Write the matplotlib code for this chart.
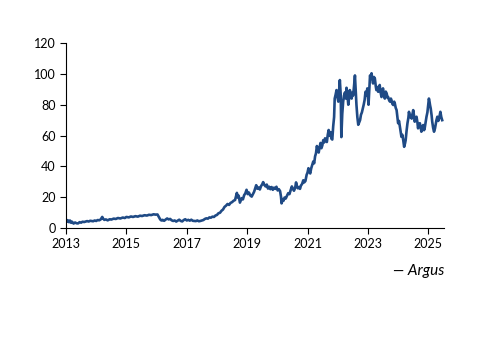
import matplotlib
matplotlib.use("Agg")
import numpy as np
import matplotlib.pyplot as plt

# Argus price series (decimal year, value), one pair of lists per year
d2013 = [2013.0, 2013.03, 2013.06, 2013.1, 2013.13, 2013.17, 2013.2, 2013.25, 2013.3, 2013.35,
         2013.4, 2013.45, 2013.5, 2013.55, 2013.6, 2013.7, 2013.75, 2013.8, 2013.9, 2013.95]
v2013 = [5.6, 4.2, 5.0, 3.8, 4.9, 3.4, 4.1, 2.9, 3.6, 3.1,
         3.0, 3.8, 3.5, 4.1, 3.9, 4.5, 4.2, 4.7, 4.4, 4.9]

d2014 = [2014.0, 2014.05, 2014.1, 2014.15, 2014.2, 2014.23, 2014.27, 2014.32, 2014.38, 2014.45,
         2014.5, 2014.58, 2014.65, 2014.72, 2014.8, 2014.88, 2014.95]
v2014 = [4.6, 5.2, 5.0, 5.6, 7.2, 6.1, 5.3, 5.6, 5.0, 5.7,
         5.5, 6.1, 5.9, 6.5, 6.2, 6.8, 6.5]

d2015 = [2015.0, 2015.08, 2015.15, 2015.22, 2015.3, 2015.38, 2015.45, 2015.52, 2015.6, 2015.68,
         2015.75, 2015.82, 2015.9, 2015.97]
v2015 = [7.2, 6.9, 7.5, 7.2, 7.7, 7.4, 8.0, 7.8, 8.3, 8.1,
         8.6, 8.4, 8.9, 8.7]

d2016 = [2016.03, 2016.08, 2016.12, 2016.16, 2016.2, 2016.25, 2016.3, 2016.35, 2016.4, 2016.45,
         2016.5, 2016.55, 2016.6, 2016.65, 2016.7, 2016.75, 2016.8, 2016.85, 2016.9, 2016.95]
v2016 = [8.8, 7.0, 5.6, 4.9, 5.3, 4.7, 5.5, 6.2, 5.6, 5.9,
         5.0, 4.6, 4.9, 4.2, 4.8, 5.4, 4.6, 4.3, 5.2, 5.7]

d2017 = [2017.0, 2017.05, 2017.1, 2017.15, 2017.2, 2017.3, 2017.35, 2017.4, 2017.45, 2017.5,
         2017.55, 2017.6, 2017.65, 2017.7, 2017.75, 2017.8, 2017.85, 2017.9, 2017.95]
v2017 = [4.9, 5.3, 4.8, 5.4, 4.7, 4.5, 4.9, 4.4, 4.6, 4.9,
         5.2, 5.9, 6.3, 6.1, 6.9, 6.7, 7.4, 7.2, 8.1]

d2018 = [2018.0, 2018.05, 2018.1, 2018.15, 2018.2, 2018.25, 2018.3, 2018.35, 2018.4, 2018.45,
         2018.5, 2018.55, 2018.6, 2018.63, 2018.66, 2018.69, 2018.72, 2018.76, 2018.79, 2018.82,
         2018.86, 2018.9, 2018.94, 2018.98]
v2018 = [8.5, 9.6, 9.9, 11.2, 12.0, 13.7, 14.5, 15.6, 15.0, 16.3,
         16.8, 17.7, 18.2, 20.5, 22.8, 19.8, 21.0, 16.5, 18.0, 19.4,
         18.6, 21.3, 22.5, 24.8]

d2019 = [2019.02, 2019.06, 2019.1, 2019.15, 2019.19, 2019.23, 2019.27, 2019.3, 2019.34, 2019.38,
         2019.42, 2019.46, 2019.5, 2019.53, 2019.57, 2019.61, 2019.65, 2019.69, 2019.73, 2019.77,
         2019.81, 2019.85, 2019.89, 2019.93, 2019.97]
v2019 = [22.0, 23.0, 21.2, 20.4, 22.0, 23.5, 26.0, 27.8, 25.5, 26.3,
         25.0, 27.2, 28.4, 29.8, 28.0, 27.0, 28.2, 25.6, 26.8, 25.2,
         26.6, 24.8, 26.2, 25.4, 26.8]

d2020 = [2020.01, 2020.05, 2020.09, 2020.12, 2020.14, 2020.17, 2020.2, 2020.24, 2020.28, 2020.32,
         2020.36, 2020.4, 2020.44, 2020.48, 2020.52, 2020.55, 2020.59, 2020.62, 2020.65, 2020.68,
         2020.72, 2020.75, 2020.78, 2020.82, 2020.86, 2020.89, 2020.93, 2020.97]
v2020 = [24.4, 25.2, 24.0, 20.5, 16.0, 18.8, 17.6, 19.8, 19.2, 21.0,
         22.6, 22.0, 24.5, 27.0, 25.3, 24.2, 26.0, 29.6, 27.2, 25.8,
         26.6, 25.4, 27.5, 28.6, 31.0, 29.6, 30.5, 34.5]

d2021 = [2021.0, 2021.03, 2021.06, 2021.09, 2021.12, 2021.15, 2021.19, 2021.22, 2021.25, 2021.28,
         2021.31, 2021.34, 2021.37, 2021.4, 2021.43, 2021.46, 2021.49, 2021.52, 2021.55, 2021.58,
         2021.61, 2021.64, 2021.67, 2021.7, 2021.73, 2021.76, 2021.79, 2021.82, 2021.85, 2021.88,
         2021.9, 2021.93, 2021.96, 2021.99]
v2021 = [36.0, 38.8, 36.5, 35.4, 38.6, 40.5, 43.2, 42.0, 46.5, 48.5,
         53.2, 50.5, 49.0, 52.5, 55.2, 51.8, 53.6, 57.0, 55.5, 58.2,
         56.8, 55.8, 60.5, 63.6, 60.0, 62.2, 58.0, 57.4, 66.0, 72.0,
         84.0, 86.5, 89.5, 85.0]

d2022 = [2022.02, 2022.05, 2022.07, 2022.1, 2022.12, 2022.15, 2022.18, 2022.21, 2022.24, 2022.27,
         2022.29, 2022.32, 2022.35, 2022.38, 2022.4, 2022.43, 2022.46, 2022.49, 2022.51, 2022.54,
         2022.57, 2022.6, 2022.62, 2022.65, 2022.68, 2022.71, 2022.74, 2022.77, 2022.8, 2022.83,
         2022.86, 2022.89, 2022.92, 2022.95, 2022.98]
v2022 = [82.0, 90.0, 96.0, 86.0, 59.0, 74.0, 82.0, 86.0, 88.0, 84.0,
         91.0, 86.5, 80.0, 85.0, 89.5, 87.0, 84.0, 88.0, 86.0, 92.0,
         99.0, 88.0, 80.0, 72.0, 67.0, 68.5, 70.0, 73.5, 75.0, 77.5,
         80.0, 83.0, 88.4, 86.0, 90.6]

d2023 = [2023.02, 2023.05, 2023.07, 2023.1, 2023.12, 2023.15, 2023.17, 2023.2, 2023.23, 2023.26,
         2023.28, 2023.31, 2023.34, 2023.37, 2023.39, 2023.42, 2023.45, 2023.48, 2023.5, 2023.53,
         2023.56, 2023.59, 2023.62, 2023.65, 2023.67, 2023.7, 2023.73, 2023.76, 2023.78, 2023.81,
         2023.84, 2023.87, 2023.89, 2023.92, 2023.95, 2023.98]
v2023 = [80.0, 92.0, 99.0, 97.0, 100.4, 96.0, 93.8, 98.0, 97.0, 92.0,
         89.5, 91.5, 88.4, 90.0, 92.8, 88.0, 85.0, 89.0, 90.6, 86.0,
         84.0, 88.5, 87.4, 84.5, 85.0, 83.0, 82.0, 84.0, 83.0, 80.5,
         79.8, 82.0, 81.0, 78.0, 76.5, 71.0]

d2024 = [2024.0, 2024.03, 2024.06, 2024.09, 2024.11, 2024.14, 2024.17, 2024.2, 2024.23, 2024.25,
         2024.28, 2024.31, 2024.34, 2024.36, 2024.39, 2024.42, 2024.45, 2024.48, 2024.5, 2024.53,
         2024.55, 2024.58, 2024.61, 2024.64, 2024.66, 2024.69, 2024.72, 2024.75, 2024.77, 2024.8,
         2024.83, 2024.86, 2024.88, 2024.91, 2024.94, 2024.97, 2024.99]
v2024 = [68.0, 69.5, 65.7, 62.0, 59.2, 60.5, 57.0, 52.7, 55.0, 57.0,
         63.0, 68.0, 71.5, 75.4, 72.0, 73.3, 71.0, 74.5, 76.5, 72.5,
         69.0, 71.0, 72.2, 68.5, 64.7, 66.5, 68.0, 65.0, 62.5, 65.5,
         66.8, 63.5, 64.7, 68.5, 72.2, 75.0, 78.7]

d2025 = [2025.02, 2025.04, 2025.06, 2025.08, 2025.11, 2025.13, 2025.16, 2025.19, 2025.22, 2025.24,
         2025.27, 2025.3, 2025.33, 2025.36, 2025.38, 2025.4, 2025.43, 2025.46]
v2025 = [84.0, 82.0, 79.5, 77.6, 73.0, 69.0, 65.0, 62.5, 64.5, 66.8,
         70.0, 72.2, 69.5, 71.2, 73.5, 75.4, 72.0, 70.0]

xticks = [2013, 2015, 2017, 2019, 2021, 2023, 2025]
yticks = [0, 20, 40, 60, 80, 100, 120]

dates = d2013 + d2014 + d2015 + d2016 + d2017 + d2018 + d2019 + d2020 + d2021 + d2022 + d2023 + d2024 + d2025
argus = v2013 + v2014 + v2015 + v2016 + v2017 + v2018 + v2019 + v2020 + v2021 + v2022 + v2023 + v2024 + v2025
assert len(dates) == len(argus)

plt.rcParams['font.family'] = ['Lato', 'DejaVu Sans']

fig = plt.figure(figsize=(5, 3.53), dpi=100)
ax = fig.add_axes([0.132, 0.354, 0.756, 0.524])

ax.plot(dates, argus, color='#1f4a85', lw=1.9, solid_joinstyle='round')

ax.set_xlim(2013, 2025.52)
ax.set_ylim(0, 120)
ax.set_xticks(xticks)
ax.set_xticklabels([str(t) for t in xticks])
ax.set_yticks(yticks)
ax.tick_params(axis='both', direction='out', length=4, width=0.8, labelsize=9, colors='black')
ax.tick_params(axis='x', pad=3)
for s in ['top', 'right']:
    ax.spines[s].set_visible(False)
for s in ['left', 'bottom']:
    ax.spines[s].set_linewidth(0.8)

fig.text(0.888, 0.232, '\u2014 Argus', ha='right', va='center', fontsize=11, style='italic')

fig.savefig('out.png', dpi=100)
